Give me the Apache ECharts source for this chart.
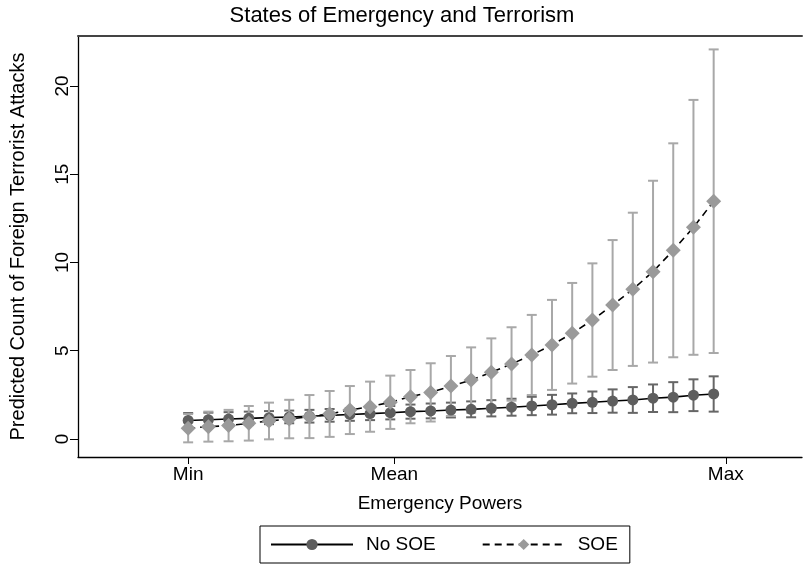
<!DOCTYPE html>
<html>
<head>
<meta charset="utf-8">
<script src="https://cdn.jsdelivr.net/npm/echarts@6/dist/echarts.min.js"></script>
<style>
html,body{margin:0;padding:0;background:#fff;}
#chart{width:804px;height:569px;}
</style>
</head>
<body>
<div id="chart"></div>
<script>
// Position index of each evaluated value of emergency powers
const xPos = [0,1,2,3,4,5,6,7,8,9,10,11,12,13,14,15,16,17,18,19,20,21,22,23,24,25,26];
// No SOE predictions and 95% CI
const noSoe   = [1.05,1.09,1.13,1.17,1.21,1.25,1.29,1.34,1.39,1.44,1.49,1.55,1.59,1.64,1.68,1.74,1.80,1.87,1.94,2.02,2.08,2.15,2.21,2.31,2.37,2.48,2.55];
const noSoeLo = [0.63,0.69,0.74,0.79,0.84,0.89,0.93,0.98,1.03,1.07,1.11,1.15,1.17,1.22,1.23,1.28,1.32,1.35,1.38,1.46,1.47,1.49,1.48,1.53,1.52,1.58,1.55];
const noSoeHi = [1.47,1.49,1.52,1.55,1.58,1.61,1.65,1.70,1.75,1.81,1.87,1.95,2.01,2.06,2.13,2.20,2.28,2.39,2.50,2.58,2.69,2.81,2.94,3.09,3.22,3.38,3.55];
// SOE predictions and 95% CI
const soe   = [0.61,0.70,0.76,0.89,1.02,1.13,1.26,1.42,1.64,1.83,2.08,2.40,2.64,3.00,3.34,3.78,4.25,4.76,5.33,5.99,6.74,7.59,8.48,9.48,10.69,11.99,13.47];
const soeLo = [-0.19,-0.15,-0.13,-0.09,-0.02,0.04,0.05,0.12,0.28,0.41,0.57,0.89,0.99,1.30,1.49,1.86,2.17,2.49,2.78,3.14,3.53,3.91,4.14,4.33,4.63,4.77,4.87];
const soeHi = [1.41,1.55,1.65,1.87,2.06,2.22,2.49,2.72,3.00,3.25,3.59,3.91,4.29,4.70,5.19,5.70,6.33,7.03,7.88,8.84,9.95,11.27,12.82,14.63,16.75,19.21,22.07];
// Axis ticks
const xTickValues = [0, 10.2, 26.6];
const xTickLabels = ['Min', 'Mean', 'Max'];
const yTickValues = [0, 5, 10, 15, 20];

const FONT = 'Liberation Sans, Arial, Helvetica, sans-serif';

function capSeries(name, lo, hi, color) {
  return {
    name: name + ' CI',
    type: 'custom',
    z: 1,
    silent: true,
    clip: false,
    data: xPos.map((x, i) => [x, lo[i], hi[i]]),
    encode: { x: 0, y: [1, 2] },
    renderItem: function (params, api) {
      const x = api.value(0);
      const a = api.coord([x, api.value(1)]);
      const b = api.coord([x, api.value(2)]);
      const w = 5;
      const st = { stroke: color, lineWidth: 2 };
      return {
        type: 'group',
        children: [
          { type: 'line', shape: { x1: a[0], y1: a[1], x2: b[0], y2: b[1] }, style: st },
          { type: 'line', shape: { x1: a[0] - w, y1: a[1], x2: a[0] + w, y2: a[1] }, style: st },
          { type: 'line', shape: { x1: b[0] - w, y1: b[1], x2: b[0] + w, y2: b[1] }, style: st }
        ]
      };
    }
  };
}

const chart = echarts.init(document.getElementById('chart'), null, { renderer: 'canvas' });
chart.setOption({
  animation: false,
  backgroundColor: '#ffffff',
  title: {
    text: 'States of Emergency and Terrorism',
    left: 'center',
    top: 0,
    textStyle: { fontFamily: FONT, fontSize: 22, fontWeight: 'normal', color: '#000' }
  },
  grid: { left: 72, top: 36, right: 2, bottom: 112, containLabel: false },
  xAxis: [{
    type: 'value',
    min: -5.45,
    max: 30.37,
    name: 'Emergency Powers',
    nameLocation: 'middle',
    nameGap: 37,
    nameTextStyle: { fontFamily: FONT, fontSize: 19, color: '#000' },
    splitLine: { show: false },
    axisLine: { onZero: false, lineStyle: { color: '#000', width: 1.3 } },
    axisTick: { show: true, length: 7, customValues: xTickValues, lineStyle: { color: '#000', width: 1 } },
    axisLabel: {
      customValues: xTickValues,
      fontFamily: FONT, fontSize: 19, color: '#000', margin: 8,
      formatter: function (v) {
        const k = xTickValues.indexOf(v);
        return k >= 0 ? xTickLabels[k] : '';
      }
    }
  }, {
    type: 'value',
    position: 'top',
    min: -5.45,
    max: 30.37,
    splitLine: { show: false },
    axisLine: { show: true, onZero: false, lineStyle: { color: '#444', width: 2 } },
    axisTick: { show: false },
    axisLabel: { show: false }
  }],
  yAxis: {
    type: 'value',
    min: -1.02,
    max: 22.83,
    name: 'Predicted Count of Foreign Terrorist Attacks',
    nameLocation: 'middle',
    nameGap: 50,
    nameRotate: 90,
    nameTextStyle: { fontFamily: FONT, fontSize: 20, color: '#000' },
    splitLine: { show: false },
    axisLine: { show: true, onZero: false, lineStyle: { color: '#000', width: 1.3 } },
    axisTick: { show: true, length: 8, customValues: yTickValues, lineStyle: { color: '#000', width: 1 } },
    axisLabel: {
      customValues: yTickValues,
      rotate: 90,
      fontFamily: FONT, fontSize: 19, color: '#000', margin: 6
    }
  },
  legend: {
    data: ['No SOE', 'SOE'],
    left: 260,
    top: 526,
    orient: 'horizontal',
    itemWidth: 82,
    itemHeight: 14,
    itemGap: 46,
    padding: [9, 12, 9, 10],
    borderColor: '#000',
    borderWidth: 1,
    borderRadius: 0,
    textStyle: { fontFamily: FONT, fontSize: 19, color: '#000', padding: [0, 0, 0, 8] }
  },
  series: [
    capSeries('No SOE', noSoeLo, noSoeHi, '#666666'),
    capSeries('SOE', soeLo, soeHi, '#a8a8a8'),
    {
      name: 'No SOE',
      type: 'line',
      z: 3,
      data: xPos.map((x, i) => [x, noSoe[i]]),
      symbol: 'circle',
      symbolSize: 11,
      itemStyle: { color: '#5e5e5e' },
      lineStyle: { color: '#000', width: 1.6, type: 'solid' },
      emphasis: { disabled: true }
    },
    {
      name: 'SOE',
      type: 'line',
      z: 4,
      data: xPos.map((x, i) => [x, soe[i]]),
      symbol: 'diamond',
      symbolSize: [15, 15],
      itemStyle: { color: '#9a9a9a' },
      lineStyle: { color: '#000', width: 1.6, type: [7, 5] },
      emphasis: { disabled: true }
    }
  ]
});
</script>
</body>
</html>
